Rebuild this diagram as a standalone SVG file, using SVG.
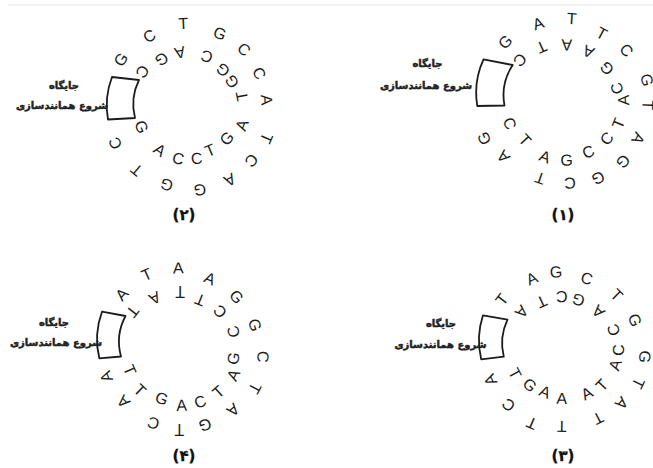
<svg xmlns="http://www.w3.org/2000/svg" width="653" height="468" viewBox="0 0 653 468">
  <style>
    .b{font-family:"Liberation Sans",Arial,sans-serif;font-size:16px;fill:#1c1c1c;text-anchor:middle}
    .ori{fill:none;stroke:#1c1c1c;stroke-width:1.8;stroke-linejoin:round}
    .lbl{font-family:"DejaVu Sans","Noto Sans",sans-serif;font-size:10px;font-weight:bold;fill:#222;stroke:#222;stroke-width:0.45;text-anchor:middle}
    .num{font-family:"DejaVu Sans","Noto Sans",sans-serif;font-size:15px;font-weight:bold;fill:#111;stroke:#111;stroke-width:0.3;text-anchor:middle}
  </style>
  <rect width="653" height="468" fill="#fff"/>
  <line x1="8" y1="5" x2="653" y2="5" stroke="#ececec" stroke-width="1.5"/>

  <!-- circular DNA (2) -->
  <g id="plasmid-2">
    <g id="plasmid-2-outer">
      <text class="b" dy="5.7" transform="translate(120.7 59.3) rotate(-56)">G</text>
      <text class="b" dy="5.7" transform="translate(149.3 36) rotate(-31)">C</text>
      <text class="b" dy="5.7" transform="translate(183.3 23.3) rotate(-3)">T</text>
      <text class="b" dy="5.7" transform="translate(220 33.3) rotate(22)">G</text>
      <text class="b" dy="5.7" transform="translate(244 49.3) rotate(43)">C</text>
      <text class="b" dy="5.7" transform="translate(259.3 73.3) rotate(64)">C</text>
      <text class="b" dy="5.7" transform="translate(266.7 100) rotate(86)">A</text>
      <text class="b" dy="5.7" transform="translate(266.7 138.3) rotate(113)">T</text>
      <text class="b" dy="5.7" transform="translate(251.7 160.7) rotate(132)">C</text>
      <text class="b" dy="5.7" transform="translate(230 180) rotate(152)">A</text>
      <text class="b" dy="5.7" transform="translate(200 190) rotate(174)">G</text>
      <text class="b" dy="5.7" transform="translate(166.7 185) rotate(197)">G</text>
      <text class="b" dy="5.7" transform="translate(136.7 170) rotate(220)">T</text>
      <text class="b" dy="5.7" transform="translate(115 143.3) rotate(244)">C</text>
    </g>
    <g id="plasmid-2-inner">
      <text class="b" dy="5.7" transform="translate(142.7 71.7) rotate(125)">C</text>
      <text class="b" dy="5.7" transform="translate(161.7 59.3) rotate(148)">G</text>
      <text class="b" dy="5.7" transform="translate(180 52.7) rotate(168)">A</text>
      <text class="b" dy="5.7" transform="translate(206.7 56.7) rotate(198)">C</text>
      <text class="b" dy="5.7" transform="translate(222.7 70) rotate(221)">G</text>
      <text class="b" dy="5.7" transform="translate(231.7 81.7) rotate(239)">G</text>
      <text class="b" dy="5.7" transform="translate(241.7 96) rotate(259)">T</text>
      <text class="b" dy="5.7" transform="translate(241.7 125) rotate(290)">A</text>
      <text class="b" dy="5.7" transform="translate(226.7 138.3) rotate(312)">G</text>
      <text class="b" dy="5.7" transform="translate(210 150) rotate(337)">T</text>
      <text class="b" dy="5.7" transform="translate(196.7 158.3) rotate(354)">C</text>
      <text class="b" dy="5.7" transform="translate(178.3 158.3) rotate(14)">C</text>
      <text class="b" dy="5.7" transform="translate(160 150) rotate(35)">A</text>
      <text class="b" dy="5.7" transform="translate(141.7 126.7) rotate(67)">G</text>
    </g>
    <path class="ori" d="M112,77 L139,80 A55,55 0 0 0 135,118 L108,119.5 A80,80 0 0 1 112,77 Z"/>
    <text class="lbl" x="64" y="89">جایگاه</text>
    <text class="lbl" x="62" y="109">شروع همانندسازی</text>
    <text class="num" x="184" y="220">(۲)</text>
  </g>

  <!-- circular DNA (1) -->
  <g id="plasmid-1">
    <g id="plasmid-1-outer">
      <text class="b" dy="5.7" transform="translate(505 41.7) rotate(-45)">G</text>
      <text class="b" dy="5.7" transform="translate(538.3 23.3) rotate(-19)">A</text>
      <text class="b" dy="5.7" transform="translate(571.7 18.3) rotate(4)">T</text>
      <text class="b" dy="5.7" transform="translate(601.7 33.3) rotate(28)">T</text>
      <text class="b" dy="5.7" transform="translate(626.7 50) rotate(49)">C</text>
      <text class="b" dy="5.7" transform="translate(647 80) rotate(78)">G</text>
      <text class="b" dy="5.7" transform="translate(648 105) rotate(92)">T</text>
      <text class="b" dy="5.7" transform="translate(638.3 138.3) rotate(117)">A</text>
      <text class="b" dy="5.7" transform="translate(623.3 161.7) rotate(136)">G</text>
      <text class="b" dy="5.7" transform="translate(598.3 178.3) rotate(157)">G</text>
      <text class="b" dy="5.7" transform="translate(570 183.3) rotate(177)">C</text>
      <text class="b" dy="5.7" transform="translate(540 178.3) rotate(199)">T</text>
      <text class="b" dy="5.7" transform="translate(503.3 156.7) rotate(229)">A</text>
      <text class="b" dy="5.7" transform="translate(484 138.3) rotate(246)">G</text>
    </g>
    <g id="plasmid-1-inner">
      <text class="b" dy="5.7" transform="translate(520 60) rotate(132)">C</text>
      <text class="b" dy="5.7" transform="translate(541.7 47.3) rotate(156)">T</text>
      <text class="b" dy="5.7" transform="translate(566.7 45) rotate(181)">A</text>
      <text class="b" dy="5.7" transform="translate(588.3 51.7) rotate(204)">A</text>
      <text class="b" dy="5.7" transform="translate(606.7 68.3) rotate(230)">G</text>
      <text class="b" dy="5.7" transform="translate(616.7 88.3) rotate(255)">C</text>
      <text class="b" dy="5.7" transform="translate(623.3 100) rotate(268)">A</text>
      <text class="b" dy="5.7" transform="translate(618.3 123.3) rotate(292)">T</text>
      <text class="b" dy="5.7" transform="translate(606.7 138.3) rotate(312)">C</text>
      <text class="b" dy="5.7" transform="translate(588.3 151.7) rotate(336)">C</text>
      <text class="b" dy="5.7" transform="translate(566.7 160) rotate(359)">G</text>
      <text class="b" dy="5.7" transform="translate(545 156.7) rotate(21)">A</text>
      <text class="b" dy="5.7" transform="translate(525 140) rotate(47)">T</text>
      <text class="b" dy="5.7" transform="translate(510 123.3) rotate(69)">C</text>
    </g>
    <path class="ori" d="M483.5,59.3 L512.7,65 A55,55 0 0 0 504.5,105.5 L477.3,106 A80,80 0 0 1 483.5,59.3 Z"/>
    <text class="lbl" x="427.5" y="67">جایگاه</text>
    <text class="lbl" x="426" y="89">شروع همانندسازی</text>
    <text class="num" x="563" y="220">(۱)</text>
  </g>

  <!-- circular DNA (4) -->
  <g id="plasmid-4">
    <g id="plasmid-4-outer">
      <text class="b" dy="5.7" transform="translate(121.7 294.3) rotate(-47)">A</text>
      <text class="b" dy="5.7" transform="translate(146.7 274.3) rotate(-24)">T</text>
      <text class="b" dy="5.7" transform="translate(178.3 267.7) rotate(-1)">A</text>
      <text class="b" dy="5.7" transform="translate(210 278.3) rotate(23)">A</text>
      <text class="b" dy="5.7" transform="translate(236.7 296.7) rotate(47)">G</text>
      <text class="b" dy="5.7" transform="translate(255 325) rotate(72)">G</text>
      <text class="b" dy="5.7" transform="translate(263.3 356.7) rotate(95)">C</text>
      <text class="b" dy="5.7" transform="translate(255 388.3) rotate(118)">T</text>
      <text class="b" dy="5.7" transform="translate(233.3 410) rotate(139)">A</text>
      <text class="b" dy="5.7" transform="translate(205 425) rotate(162)">G</text>
      <text class="b" dy="5.7" transform="translate(179.3 430) rotate(180)">T</text>
      <text class="b" dy="5.7" transform="translate(153.3 423.3) rotate(200)">C</text>
      <text class="b" dy="5.7" transform="translate(123.3 401.7) rotate(227)">A</text>
      <text class="b" dy="5.7" transform="translate(106 376.7) rotate(250)">A</text>
    </g>
    <g id="plasmid-4-inner">
      <text class="b" dy="5.7" transform="translate(132.7 311.7) rotate(128)">T</text>
      <text class="b" dy="5.7" transform="translate(155 298.3) rotate(154)">A</text>
      <text class="b" dy="5.7" transform="translate(180 291.7) rotate(180)">T</text>
      <text class="b" dy="5.7" transform="translate(200 300) rotate(202)">T</text>
      <text class="b" dy="5.7" transform="translate(220 311.7) rotate(227)">C</text>
      <text class="b" dy="5.7" transform="translate(233.3 331.7) rotate(252)">C</text>
      <text class="b" dy="5.7" transform="translate(233.3 358.3) rotate(280)">G</text>
      <text class="b" dy="5.7" transform="translate(233.3 375) rotate(296)">A</text>
      <text class="b" dy="5.7" transform="translate(218.3 391.7) rotate(318)">T</text>
      <text class="b" dy="5.7" transform="translate(200 401.7) rotate(339)">C</text>
      <text class="b" dy="5.7" transform="translate(181.7 405) rotate(358)">A</text>
      <text class="b" dy="5.7" transform="translate(161.7 398.3) rotate(20)">G</text>
      <text class="b" dy="5.7" transform="translate(140 390) rotate(44)">T</text>
      <text class="b" dy="5.7" transform="translate(130 370) rotate(67)">T</text>
    </g>
    <path class="ori" d="M102,311.7 L125.5,316 A55,55 0 0 0 121,356.5 L99.3,358.3 A80,80 0 0 1 102,311.7 Z"/>
    <text class="lbl" x="54" y="326">جایگاه</text>
    <text class="lbl" x="56" y="346">شروع همانندسازی</text>
    <text class="num" x="184" y="461">(۴)</text>
  </g>

  <!-- circular DNA (3) -->
  <g id="plasmid-3">
    <g id="plasmid-3-outer">
      <text class="b" dy="5.7" transform="translate(501.7 299.3) rotate(-52)">T</text>
      <text class="b" dy="5.7" transform="translate(531.7 278.3) rotate(-24)">A</text>
      <text class="b" dy="5.7" transform="translate(556 271.7) rotate(-5)">G</text>
      <text class="b" dy="5.7" transform="translate(586.7 278.3) rotate(19)">C</text>
      <text class="b" dy="5.7" transform="translate(616.7 295) rotate(45)">T</text>
      <text class="b" dy="5.7" transform="translate(635 320) rotate(69)">G</text>
      <text class="b" dy="5.7" transform="translate(645 356.7) rotate(96)">G</text>
      <text class="b" dy="5.7" transform="translate(638.3 383.3) rotate(115)">T</text>
      <text class="b" dy="5.7" transform="translate(621.7 403.3) rotate(133)">A</text>
      <text class="b" dy="5.7" transform="translate(598.3 418.3) rotate(153)">T</text>
      <text class="b" dy="5.7" transform="translate(561.7 426.7) rotate(181)">T</text>
      <text class="b" dy="5.7" transform="translate(531.7 423.3) rotate(203)">T</text>
      <text class="b" dy="5.7" transform="translate(508.3 405) rotate(224)">C</text>
      <text class="b" dy="5.7" transform="translate(490 380) rotate(246)">A</text>
    </g>
    <g id="plasmid-3-inner">
      <text class="b" dy="5.7" transform="translate(521.7 311.7) rotate(131)">A</text>
      <text class="b" dy="5.7" transform="translate(541.7 301.7) rotate(155)">T</text>
      <text class="b" dy="5.7" transform="translate(561.7 296.7) rotate(179)">C</text>
      <text class="b" dy="5.7" transform="translate(578.3 300) rotate(198)">G</text>
      <text class="b" dy="5.7" transform="translate(598.3 311.7) rotate(224)">A</text>
      <text class="b" dy="5.7" transform="translate(613.3 330) rotate(250)">C</text>
      <text class="b" dy="5.7" transform="translate(618.3 350) rotate(272)">C</text>
      <text class="b" dy="5.7" transform="translate(615 365) rotate(288)">A</text>
      <text class="b" dy="5.7" transform="translate(601.7 385) rotate(314)">T</text>
      <text class="b" dy="5.7" transform="translate(586.7 393.3) rotate(332)">A</text>
      <text class="b" dy="5.7" transform="translate(561.7 398.3) rotate(2)">A</text>
      <text class="b" dy="5.7" transform="translate(545 391.7) rotate(22)">A</text>
      <text class="b" dy="5.7" transform="translate(530 385) rotate(42)">G</text>
      <text class="b" dy="5.7" transform="translate(515 373.3) rotate(62)">T</text>
    </g>
    <path class="ori" d="M483,315.3 L507.5,319.6 A55,55 0 0 0 503.8,356.7 L481.2,359.3 A80,80 0 0 1 483,315.3 Z"/>
    <text class="lbl" x="441" y="327">جایگاه</text>
    <text class="lbl" x="440.5" y="348">شروع همانندسازی</text>
    <text class="num" x="563" y="461">(۳)</text>
  </g>
</svg>
